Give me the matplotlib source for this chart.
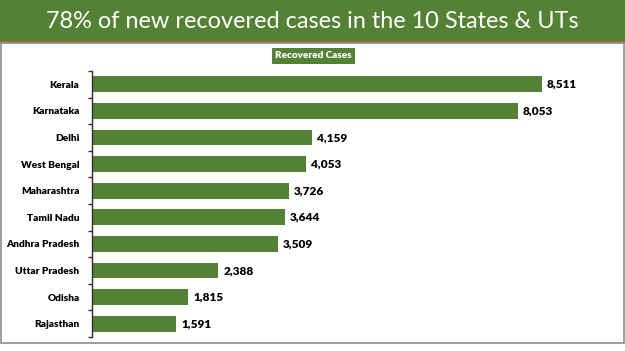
import matplotlib
matplotlib.use("Agg")
import matplotlib.pyplot as plt
from matplotlib.patches import Rectangle

# --------------------------
# Data
# --------------------------
states = ["Kerala", "Karnataka", "Delhi", "West Bengal", "Maharashtra",
          "Tamil Nadu", "Andhra Pradesh", "Uttar Pradesh", "Odisha", "Rajasthan"]
recovered = [8511, 8053, 4159, 4053, 3726, 3644, 3509, 2388, 1815, 1591]

title = "78% of new recovered cases in the 10 States & UTs"
legend_label = "Recovered Cases"

GREEN = "#548235"
W, H = 625, 351

plt.rcParams["font.family"] = ["Lato", "DejaVu Sans"]

fig = plt.figure(figsize=(W / 100, H / 100), dpi=100)
fig.patch.set_facecolor("white")

# header band
fig.add_artist(Rectangle((0, 1 - 41 / H), 1, 41 / H, transform=fig.transFigure,
                         facecolor=GREEN, edgecolor="none", zorder=0))
fig.add_artist(Rectangle((0, 1 - 42.5 / H), 1, 1.5 / H, transform=fig.transFigure,
                         facecolor="#c0612b", edgecolor="none", zorder=1))
# panel border
fig.add_artist(Rectangle((1.5 / W, 1 - 343 / H), 622 / W, (343 - 42.5) / H,
                         transform=fig.transFigure, facecolor="none",
                         edgecolor="#8c8c8c", lw=1.2, zorder=1))

fig.text(0.5, 1 - 21 / H, title, color="white", fontsize=16.9,
         ha="center", va="center")

# --------------------------
# Bar chart
# --------------------------
left, right, top, bottom = 92, 621, 71, 337
ax = fig.add_axes([left / W, 1 - bottom / H, (right - left) / W, (bottom - top) / H])
ypos = range(len(states))
ax.barh(ypos, recovered, height=0.6, color=GREEN)
scale = 450 / 8511  # px per case
ax.set_xlim(0, (right - left) / scale)
ax.set_ylim(len(states) - 0.5, -0.5)

for y, v in zip(ypos, recovered):
    ax.text(v + 5 / scale, y, f"{v:,}", va="center", ha="left",
            fontsize=8.5, fontweight="heavy", color="black")

ax.set_yticks(list(ypos))
ax.set_yticklabels(states, fontsize=7.3, fontweight="heavy")
ax.tick_params(axis="y", which="major", length=0, pad=9)
ax.set_yticks([i - 0.5 for i in range(len(states) + 1)], minor=True)
ax.tick_params(axis="y", which="minor", length=3, color="#303030", width=1)
ax.set_xticks([])
for s in ["top", "right", "bottom"]:
    ax.spines[s].set_visible(False)
ax.spines["left"].set_color("#303030")
ax.spines["left"].set_linewidth(1)

# legend box
fig.text(313.5 / W, 1 - 55.5 / H, legend_label, color="white", fontsize=7.2,
         fontweight="heavy", ha="center", va="center",
         bbox=dict(boxstyle="square,pad=0.35", facecolor=GREEN, edgecolor="none"))

fig.savefig("out.png", dpi=100)
